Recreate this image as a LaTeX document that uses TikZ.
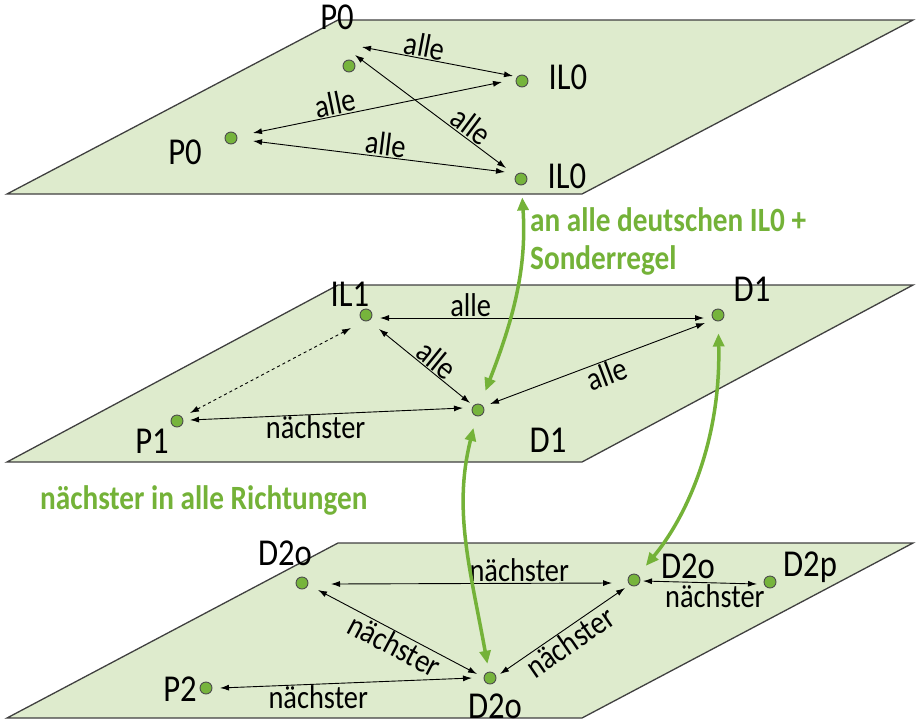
\documentclass[tikz,border=0pt]{standalone}
\usepackage{fontspec}
\setmainfont{Carlito}[FakeStretch=0.86]
\usetikzlibrary{arrows.meta}
\definecolor{planefill}{RGB}{222,235,205}
\definecolor{dotgreen}{RGB}{118,180,60}
\definecolor{notegreen}{RGB}{116,178,56}

\begin{document}
\begin{tikzpicture}[x=1pt,y=-1pt,
	plane/.style={draw=black!75,line width=1.3pt,fill=planefill},
	dot/.style={circle,draw=black!70,line width=0.9pt,fill=dotgreen,inner sep=0pt,minimum size=12pt},
	lbl/.style={font=\fontsize{38}{40}\selectfont,inner sep=0pt},
	elbl/.style={font=\fontsize{33}{36}\selectfont,inner sep=1pt},
	link/.style={<->,>={Latex[length=9pt,width=6pt]},line width=0.9pt},
	jump/.style={<->,>={Triangle[length=13pt,width=11pt]},line width=3.5pt,draw=notegreen},
	note/.style={font=\bfseries\fontsize{34}{38}\selectfont,text=notegreen,align=left,inner sep=0pt}]
	\useasboundingbox (0,0) rectangle (917,726);

	\draw[plane] (7,194) -- (582,194) -- (913,20) -- (338,20) -- cycle;
	\draw[plane] (7,462) -- (582,462) -- (913,285) -- (338,285) -- cycle;
	\draw[plane] (7,718) -- (582,718) -- (913,543) -- (338,543) -- cycle;

	% top plane
	\node[dot] (pA) at (349,66) {};
	\node[dot] (iA) at (522,81) {};
	\node[dot] (pB) at (231,138) {};
	\node[dot] (iB) at (521,179) {};
	\node[lbl] (pAl) at (337,17) {P0};
	\node[lbl] (iAl) at (568,77) {IL0};
	\node[lbl] (pBl) at (185,152) {P0};
	\node[lbl] (iBl) at (567,176) {IL0};
	\draw[link] ([shift={(13,-19)}]pA.center) -- node[elbl,above,sloped,pos=0.4] {alle} ([shift={(-9,-5)}]iA.center);
	\draw[link] ([shift={(22,-5)}]pB.center) -- node[elbl,above,sloped,pos=0.34] {alle} ([shift={(-20,1)}]iA.center);
	\draw[link] ([shift={(6,-11)}]pA.center) -- node[elbl,above,sloped,pos=0.72] {alle} ([shift={(-15,-11)}]iB.center);
	\draw[link] ([shift={(22,3)}]pB.center) -- node[elbl,above,sloped,pos=0.52] {alle} ([shift={(-16,-7)}]iB.center);

	% middle plane
	\node[dot] (il1) at (366,315) {};
	\node[dot] (d1r) at (718,315) {};
	\node[dot] (p1) at (177,421) {};
	\node[dot] (d1c) at (478,410) {};
	\node[lbl] (il1l) at (350,294) {IL1};
	\node[lbl] (d1rl) at (752,289) {D1};
	\node[lbl] (p1l) at (152,441) {P1};
	\node[lbl] (d1cl) at (548,440) {D1};
	\draw[link] ([shift={(14,3)}]il1.center) -- node[elbl,above,pos=0.28] {alle} ([shift={(-14,3)}]d1r.center);
	\draw[link] ([shift={(13,14)}]il1.center) -- node[elbl,above,sloped,pos=0.55] {alle} ([shift={(-8,-7)}]d1c.center);
	\draw[link] ([shift={(12,-6)}]d1c.center) -- node[elbl,below,sloped,pos=0.52] {alle} ([shift={(-13,8)}]d1r.center);
	\draw[link] ([shift={(13,-1)}]p1.center) -- node[elbl,below,pos=0.46] {nächster} ([shift={(-15,-2)}]d1c.center);
	\draw[link,dashed] ([shift={(13,-8)}]p1.center) -- ([shift={(-15,13)}]il1.center);

	% bottom plane
	\node[dot] (d2a) at (302,583) {};
	\node[dot] (d2b) at (634,580) {};
	\node[dot] (d2p) at (770,582) {};
	\node[dot] (p2) at (206,688) {};
	\node[dot] (d2c) at (490,678) {};
	\node[lbl] (d2al) at (285,553) {D2o};
	\node[lbl] (d2bl) at (688,566) {D2o};
	\node[lbl] (d2pl) at (810,567) {D2p};
	\node[lbl] (p2l) at (180,689) {P2};
	\node[lbl] (d2cl) at (495,706) {D2o};
	\draw[link] ([shift={(29,1)}]d2a.center) -- node[elbl,above,pos=0.67] {nächster} ([shift={(-22,3)}]d2b.center);
	\draw[link] ([shift={(9,1)}]d2b.center) -- node[elbl,below,pos=0.63] {nächster} ([shift={(-13,2)}]d2p.center);
	\draw[link] ([shift={(16,7)}]d2a.center) -- node[elbl,below,sloped,pos=0.52] {nächster} ([shift={(-13,-4)}]d2c.center);
	\draw[link] ([shift={(10,-4)}]d2c.center) -- node[elbl,below,sloped,pos=0.5] {nächster} ([shift={(-9,8)}]d2b.center);
	\draw[link] ([shift={(14,0)}]p2.center) -- node[elbl,below,pos=0.39] {nächster} ([shift={(-18,0)}]d2c.center);

	% between the planes
	\draw[jump,shorten <=12pt,shorten >=14pt] (iB) .. controls +(6,90) and +(35,-90) .. (d1c);
	\draw[jump,shorten <=12pt,shorten >=8pt] (d1c) .. controls +(-25,100) and +(-20,-110) .. (d2c);
	\draw[jump,shorten <=12pt,shorten >=12pt] (d1r) .. controls +(3,130) and +(50,-60) .. (d2b);
	\node[note,anchor=west] (n1) at (530,241) {an alle deutschen IL0 +\\Sonderregel};
	\node[note,anchor=west] (n2) at (40,500) {nächster in alle Richtungen};
\end{tikzpicture}
\end{document}
